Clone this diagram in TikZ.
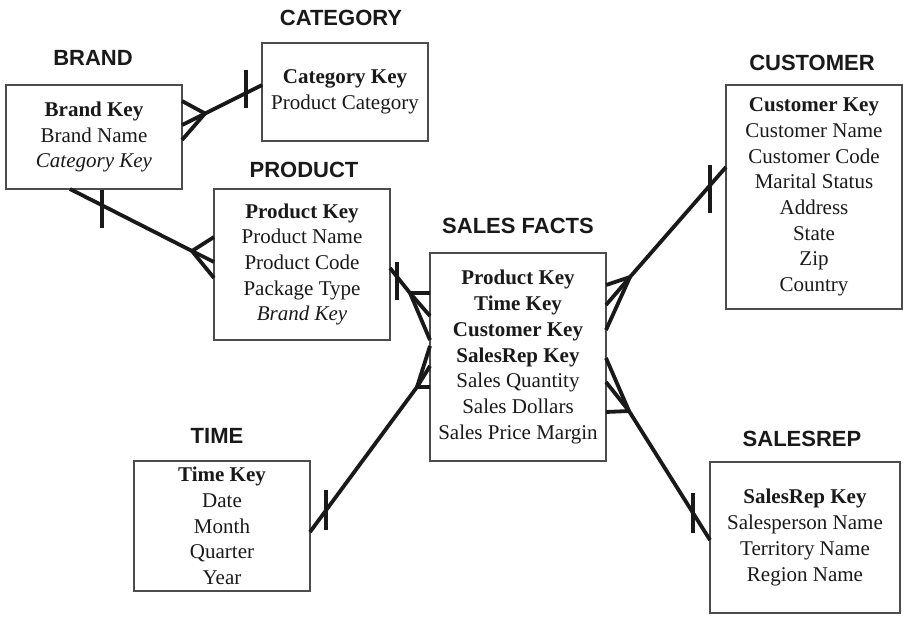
\documentclass[tikz,border=0pt]{standalone}
\usepackage{fontspec}
\setmainfont{Liberation Serif}
\newfontfamily\titlefont{Liberation Sans}
\begin{document}
\begin{tikzpicture}[x=1pt,y=-1pt]
\useasboundingbox (0,0) rectangle (903,618);
\tikzset{
  entity/.style={draw=black!70, line width=1.2pt, inner sep=0pt, align=center,
    text=black!90, font=\fontsize{21}{25.7}\selectfont},
  ttl/.style={font=\titlefont\bfseries\fontsize{22}{24}\selectfont, inner sep=0pt, text=black!90},
  rel/.style={line width=3.8pt, draw=black!90, line join=round},
  bar/.style={line width=3.8pt, draw=black!90}
}
% entities
\node[entity, minimum width=166pt, minimum height=98pt] (category) at (345,92)
  {\textbf{Category Key}\\Product Category};
\node[entity, minimum width=176pt, minimum height=104pt] (brand) at (94,137)
  {\textbf{Brand Key}\\Brand Name\\\textit{Category Key}};
\node[entity, minimum width=176pt, minimum height=151pt] (product) at (302,264.5)
  {\textbf{Product Key}\\Product Name\\Product Code\\Package Type\\\textit{Brand Key}};
\node[entity, minimum width=176pt, minimum height=208pt] (sales) at (518,357)
  {\textbf{Product Key}\\\textbf{Time Key}\\\textbf{Customer Key}\\\textbf{SalesRep Key}\\Sales Quantity\\Sales Dollars\\Sales Price Margin};
\node[entity, minimum width=176pt, minimum height=224pt] (customer) at (814,197)
  {\textbf{Customer Key}\\Customer Name\\Customer Code\\Marital Status\\Address\\State\\Zip\\Country};
\node[entity, minimum width=176pt, minimum height=130pt] (time) at (222,526)
  {\textbf{Time Key}\\Date\\Month\\Quarter\\Year};
\node[entity, minimum width=190pt, minimum height=151pt] (salesrep) at (805,537.5)
  {\textbf{SalesRep Key}\\Salesperson Name\\Territory Name\\Region Name};
% titles
\node[ttl] (tcategory) at (341,18) {CATEGORY};
\node[ttl] (tbrand) at (93,58) {BRAND};
\node[ttl] (tproduct) at (304,170) {PRODUCT};
\node[ttl] (tsales) at (518,226) {SALES FACTS};
\node[ttl] (tcustomer) at (812,63) {CUSTOMER};
\node[ttl] (ttime) at (217,436) {TIME};
\node[ttl] (tsalesrep) at (802,439) {SALESREP};

% C1 brand - category
\coordinate (c1a) at (182,125); \coordinate (c1b) at (262,85); \coordinate (c1j) at (205,113.5);
\coordinate (c1p) at (182,101); \coordinate (c1q) at (182,140);
\coordinate (c1t) at (246,70); \coordinate (c1u) at (246,108);
\draw[rel] (c1a) -- (c1b);
\draw[rel] (c1p) -- (c1j) -- (c1q);
\draw[bar] (c1t) -- (c1u);

% C2 brand - product
\coordinate (c2a) at (70,189); \coordinate (c2j) at (192,251);
\coordinate (c2m) at (214,262); \coordinate (c2p) at (214,237); \coordinate (c2q) at (214,278);
\coordinate (c2t) at (102,190); \coordinate (c2u) at (102,228);
\draw[rel] (c2a) -- (c2j) -- (c2m);
\draw[rel] (c2p) -- (c2j) -- (c2q);
\draw[bar] (c2t) -- (c2u);

% C3 product - sales
\coordinate (c3a) at (390,268); \coordinate (c3j) at (410,293);
\coordinate (c3p) at (430,293); \coordinate (c3m) at (430,316); \coordinate (c3q) at (430,340);
\coordinate (c3t) at (397,262); \coordinate (c3u) at (397,300);
\draw[rel] (c3a) -- (c3j) -- (c3m);
\draw[rel] (c3p) -- (c3j) -- (c3q);
\draw[bar] (c3t) -- (c3u);

% C4 time - sales
\coordinate (c4a) at (310,532); \coordinate (c4j) at (417,387);
\coordinate (c4p) at (430,387); \coordinate (c4m) at (430,366); \coordinate (c4q) at (430,346);
\coordinate (c4t) at (326,490); \coordinate (c4u) at (326,530);
\draw[rel] (c4a) -- (c4j) -- (c4m);
\draw[rel] (c4p) -- (c4j) -- (c4q);
\draw[bar] (c4t) -- (c4u);

% C5 customer - sales
\coordinate (c5a) at (726,167); \coordinate (c5j) at (630,277);
\coordinate (c5p) at (606,285); \coordinate (c5m) at (606,305); \coordinate (c5q) at (606,330);
\coordinate (c5t) at (710,165); \coordinate (c5u) at (710,213);
\draw[rel] (c5a) -- (c5j) -- (c5m);
\draw[rel] (c5p) -- (c5j) -- (c5q);
\draw[bar] (c5t) -- (c5u);

% C6 sales - salesrep
\coordinate (c6a) at (710,540); \coordinate (c6j) at (629,411);
\coordinate (c6p) at (606,358); \coordinate (c6m) at (606,382); \coordinate (c6q) at (606,412);
\coordinate (c6t) at (693,493); \coordinate (c6u) at (693,533);
\draw[rel] (c6a) -- (c6j) -- (c6p);
\draw[rel] (c6m) -- (c6j) -- (c6q);
\draw[bar] (c6t) -- (c6u);
\end{tikzpicture}
\end{document}
